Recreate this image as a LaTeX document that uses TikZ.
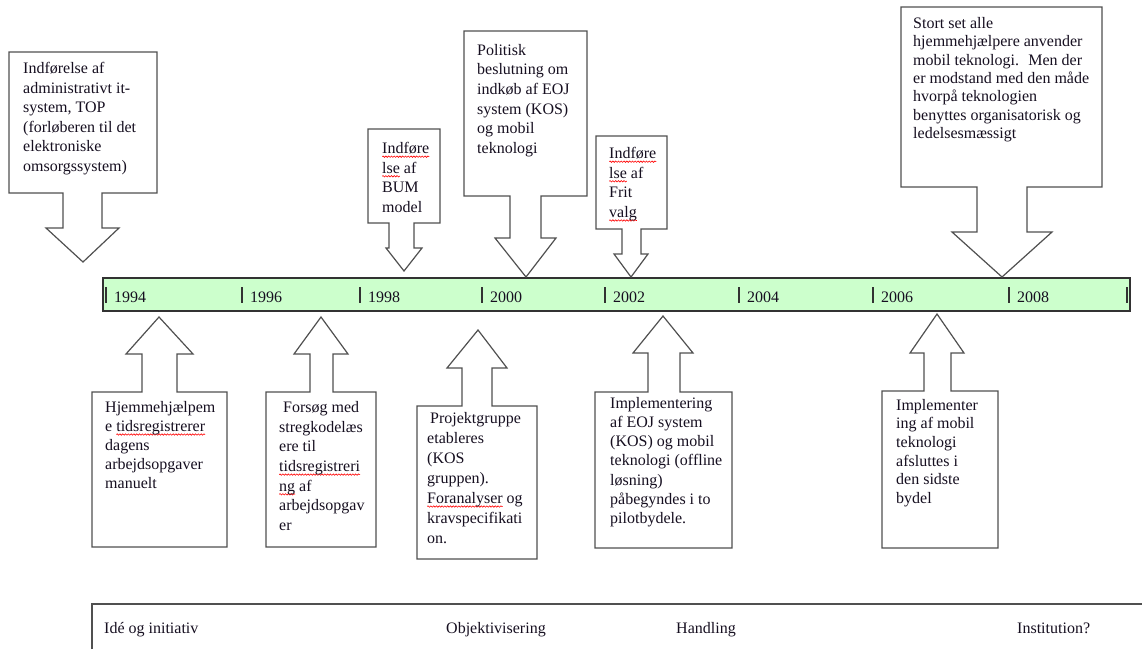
\documentclass[tikz,border=0pt]{standalone}
\usepackage{fontspec}
\setmainfont{Liberation Serif}
\usepackage{xcolor}
\usetikzlibrary{decorations.pathmorphing}
\definecolor{lnc}{RGB}{80,80,80}
\definecolor{barc}{RGB}{50,50,50}
\definecolor{barfill}{RGB}{204,255,204}
\definecolor{txc}{RGB}{22,15,32}
\newcommand\sqw[1]{\setbox0\hbox{#1}\rlap{\tikz[overlay,baseline=0pt]\draw[red, line width=0.6pt, decorate, decoration={snake, amplitude=0.7pt, segment length=2.8pt}] (0pt,-3.2pt) -- (\wd0,-3.2pt);}#1}
\begin{document}
\begin{tikzpicture}[x=1pt,y=-1pt,
  co/.style={draw=lnc, line width=1.2pt, fill=white, line join=miter},
  tx/.style={anchor=north west, align=left, inner sep=0pt, text=txc, font=\fontsize{16}{19.6}\selectfont},
  yr/.style={anchor=base west, inner sep=0pt, text=txc, font=\fontsize{16}{19}\selectfont},
  tickl/.style={draw=barc, line width=1.1pt},
  barbox/.style={draw=barc, line width=1.6pt, fill=barfill},
  btm/.style={draw=lnc, line width=1.8pt}]
\useasboundingbox (0,0) rectangle (1142,649);
% timeline bar
\draw[barbox] (103,278) rectangle (1130,311);
\foreach \x/\y in {106/1994,242/1996,360/1998,482/2000,605/2002,739/2004,873/2006,1009/2008}{
  \draw[tickl] (\x,287) -- (\x,303);
  \node[yr] (y\y) at (\x+8,302) {\y};
}
\draw[tickl] (1127,287) -- (1127,303);
% top callouts
\draw[co] (9,52) -- (157,52) -- (157,193) -- (102,193) -- (102,228) -- (119,228) -- (83,262) -- (46,228) -- (63,228) -- (63,193) -- (9,193) -- cycle;
\draw[co] (368,129) -- (440,129) -- (440,223) -- (414,223) -- (414,248) -- (422,248) -- (404,271) -- (386,248) -- (389,248) -- (389,223) -- (368,223) -- cycle;
\draw[co] (464,31) -- (587,31) -- (587,196) -- (541,196) -- (541,238) -- (556,238) -- (526,277) -- (495,238) -- (510,238) -- (510,196) -- (464,196) -- cycle;
\draw[co] (596,136) -- (667,136) -- (667,229) -- (641,229) -- (641,254) -- (648,254) -- (631,277) -- (614,254) -- (622,254) -- (622,229) -- (596,229) -- cycle;
\draw[co] (901,7) -- (1102,7) -- (1102,187) -- (1027,187) -- (1027,232) -- (1052,232) -- (1002,277) -- (952,232) -- (977,232) -- (977,187) -- (901,187) -- cycle;
% bottom callouts
\draw[co] (92,392) -- (142,392) -- (142,354) -- (126,354) -- (159,317) -- (193,354) -- (177,354) -- (177,392) -- (227,392) -- (227,547) -- (92,547) -- cycle;
\draw[co] (266,392) -- (310,392) -- (310,354) -- (294,354) -- (321,317) -- (348,354) -- (333,354) -- (333,392) -- (376,392) -- (376,547) -- (266,547) -- cycle;
\draw[co] (417,406) -- (462,406) -- (462,368) -- (447,368) -- (478,330) -- (507,368) -- (492,368) -- (492,406) -- (537,406) -- (537,559) -- (417,559) -- cycle;
\draw[co] (595,392) -- (648,392) -- (648,353) -- (633,353) -- (663,316) -- (693,353) -- (680,353) -- (680,392) -- (732,392) -- (732,548) -- (595,548) -- cycle;
\draw[co] (882,391) -- (924,391) -- (924,353) -- (910,353) -- (937,314) -- (964,353) -- (951,353) -- (951,391) -- (998,391) -- (998,548) -- (882,548) -- cycle;
% texts top
\node[tx] (t1) at (23,62) {Indførelse af\\administrativt it-\\system, TOP\\(forløberen til det\\elektroniske\\omsorgssystem)};
\node[tx] (tbum) at (382,142) {\sqw{Indføre}\\\sqw{lse} af\\BUM\\model};
\node[tx] (tpol) at (477,44) {Politisk\\beslutning om\\indkøb af EOJ\\system (KOS)\\og mobil\\teknologi};
\node[tx] (tfrit) at (609,147) {\sqw{Indføre}\\\sqw{lse} af\\Frit\\\sqw{valg}};
\node[tx, font=\fontsize{16}{18.4}\selectfont] (ttr) at (913,17) {Stort set alle\\hjemmehjælpere anvender\\mobil teknologi.~ Men der\\er modstand med den måde\\hvorpå teknologien\\benyttes organisatorisk og\\ledelsesmæssigt};
% texts bottom
\node[tx, font=\fontsize{16}{19}\selectfont] (ba) at (105,401) {Hjemmehjælpem\\e \sqw{tidsregistrerer}\\dagens\\arbejdsopgaver\\manuelt};
\node[tx, font=\fontsize{16}{19.7}\selectfont] (bb) at (279,401) {\hspace*{4pt}Forsøg med\\stregkodelæs\\ere til\\\sqw{tidsregistreri}\\\sqw{ng} af\\arbejdsopgav\\er};
\node[tx, font=\fontsize{16}{20}\selectfont] (bc) at (427,412) {\hspace*{3pt}Projektgruppe\\etableres\\(KOS\\gruppen).\\\sqw{Foranalyser} og\\kravspecifikati\\on.};
\node[tx, font=\fontsize{16}{19.2}\selectfont] (bd) at (610,397) {Implementering\\af EOJ system\\(KOS) og mobil\\teknologi (offline\\løsning)\\påbegyndes i to\\pilotbydele.};
\node[tx, font=\fontsize{16}{18.6}\selectfont] (be) at (896,399) {Implementer\\ing af mobil\\teknologi\\afsluttes i\\den sidste\\bydel};
% bottom phases
\draw[btm] (92,649) -- (92,604) -- (1142,604);
\node[yr] (p1) at (104,633) {Idé og initiativ};
\node[yr] (p2) at (446,633) {Objektivisering};
\node[yr] (p3) at (676,633) {Handling};
\node[yr] (p4) at (1017,633) {Institution?};
\end{tikzpicture}
\end{document}
